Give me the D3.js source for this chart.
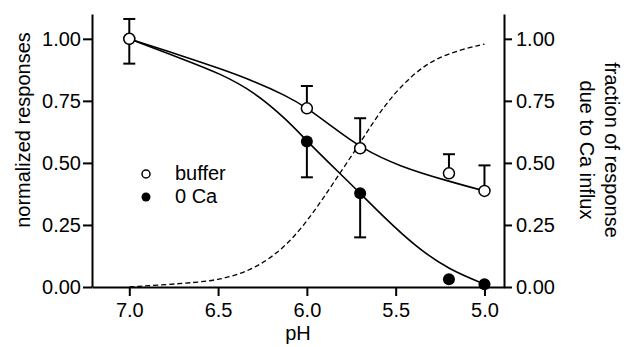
<!DOCTYPE html>
<html>
<head>
<meta charset="utf-8">
<script src="https://cdn.jsdelivr.net/npm/d3@7"></script>
<style>
  body { margin: 0; background: #fff; }
  svg { display: block; font-family: "Liberation Sans", Arial, sans-serif; }
</style>
</head>
<body>
<svg id="chart" width="632" height="347"></svg>
<script>
// measured points (pH)
const phPoints = [7.0, 6.0, 5.7, 5.2, 5.0];
const bufferValues = [1.0, 0.72, 0.559, 0.458, 0.387];
const bufferUpper = [1.08, 0.81, 0.68, 0.535, 0.49];
const caValues = [1.0, 0.586, 0.378, 0.031, 0.011];
const caLower = [0.90, 0.442, 0.20, null, null];

// fitted curves
const bufferFitPh = [7.0, 6.676, 6.489, 6.30, 6.114, 6.0, 5.85, 5.7, 5.478, 5.197, 5.0];
const bufferFitVal = [1.0, 0.925, 0.88, 0.83, 0.77, 0.722, 0.642, 0.562, 0.485, 0.425, 0.387];
const caFitPh = [7.0, 6.676, 6.489, 6.30, 6.114, 6.0, 5.815, 5.7, 5.571, 5.384, 5.197, 5.0];
const caFitVal = [1.0, 0.912, 0.86, 0.788, 0.675, 0.588, 0.458, 0.378, 0.285, 0.16, 0.069, 0.012];

// fraction of response due to Ca influx (right axis)
const fracPh = [7.0, 6.676, 6.489, 6.30, 6.114, 5.965, 5.852, 5.7, 5.571, 5.421, 5.253, 5.0];
const fracVal = [0.0, 0.015, 0.028, 0.069, 0.163, 0.297, 0.418, 0.58, 0.727, 0.848, 0.935, 0.979];

const xTicks = [7.0, 6.5, 6.0, 5.5, 5.0];
const yTicks = [0, 0.25, 0.5, 0.75, 1.0];

const svg = d3.select('#chart');

const x = d3.scaleLinear().domain([7.21, 4.89]).range([92, 504]);
const y = d3.scaleLinear().domain([0, 1.1]).range([287, 14]);
const y2 = d3.scaleLinear().domain([0, 1.1]).range([287, 14]);

// axes
const gx = svg.append('g')
  .attr('transform', 'translate(0,287)')
  .call(d3.axisBottom(x).tickValues(xTicks).tickFormat(d3.format('.1f'))
    .tickSize(9).tickSizeOuter(0).tickPadding(7));

const gy = svg.append('g')
  .attr('transform', 'translate(92,0)')
  .call(d3.axisLeft(y).tickValues(yTicks).tickFormat(d3.format('.2f'))
    .tickSize(9).tickSizeOuter(0).tickPadding(2));

const gy2 = svg.append('g')
  .attr('transform', 'translate(504,0)')
  .call(d3.axisRight(y2).tickValues(yTicks).tickFormat(d3.format('.2f'))
    .tickSize(8).tickSizeOuter(0).tickPadding(4));

[gx, gy, gy2].forEach(g => {
  g.selectAll('path, line').attr('stroke', '#000').attr('stroke-width', 2);
  g.selectAll('text').attr('font-size', 20).attr('fill', '#000')
    .attr('font-family', '"Liberation Sans", Arial, sans-serif');
});

// axis titles
svg.append('text')
  .attr('x', 298).attr('y', 340)
  .attr('text-anchor', 'middle').attr('font-size', 20)
  .text('pH');

svg.append('text')
  .attr('transform', 'translate(30,130) rotate(-90)')
  .attr('text-anchor', 'middle').attr('font-size', 20)
  .text('normalized responses');

const rt = svg.append('text')
  .attr('transform', 'translate(605,150) rotate(90)')
  .attr('text-anchor', 'middle').attr('font-size', 20);
rt.append('tspan').attr('x', 0).attr('y', 0).text('fraction of response');
rt.append('tspan').attr('x', 0).attr('y', 25).text('due to Ca influx');

// curves
const line = d3.line()
  .x(d => x(d[0]))
  .y(d => y(d[1]))
  .curve(d3.curveBasis);

svg.append('path')
  .attr('d', line(d3.zip(fracPh, fracVal)))
  .attr('fill', 'none').attr('stroke', '#000')
  .attr('stroke-width', 1.3).attr('stroke-dasharray', '5,3');

svg.append('path')
  .attr('d', line(d3.zip(bufferFitPh, bufferFitVal)))
  .attr('fill', 'none').attr('stroke', '#000').attr('stroke-width', 1.6);

svg.append('path')
  .attr('d', line(d3.zip(caFitPh, caFitVal)))
  .attr('fill', 'none').attr('stroke', '#000').attr('stroke-width', 1.6);

// error bars
function errorBars(vals, ends) {
  const data = phPoints.map((p, i) => ({ p, v: vals[i], e: ends[i] }))
    .filter(d => d.e != null);
  const g = svg.append('g').attr('stroke', '#000').attr('stroke-width', 2);
  g.selectAll('line.v').data(data).enter().append('line')
    .attr('x1', d => x(d.p)).attr('x2', d => x(d.p))
    .attr('y1', d => y(d.v)).attr('y2', d => y(d.e));
  g.selectAll('line.c').data(data).enter().append('line')
    .attr('x1', d => x(d.p) - 6).attr('x2', d => x(d.p) + 6)
    .attr('y1', d => y(d.e)).attr('y2', d => y(d.e));
}
errorBars(caValues, caLower);
errorBars(bufferValues, bufferUpper);

// points
svg.selectAll('circle.ca')
  .data(phPoints.map((p, i) => [p, caValues[i]]))
  .enter().append('circle')
  .attr('cx', d => x(d[0])).attr('cy', d => y(d[1]))
  .attr('r', 6).attr('fill', '#000');

svg.selectAll('circle.buf')
  .data(phPoints.map((p, i) => [p, bufferValues[i]]))
  .enter().append('circle')
  .attr('cx', d => x(d[0])).attr('cy', d => y(d[1]))
  .attr('r', 5.5).attr('fill', '#fff')
  .attr('stroke', '#000').attr('stroke-width', 1.5);

// legend
const legend = svg.append('g');
legend.append('circle').attr('cx', 146).attr('cy', 174).attr('r', 4)
  .attr('fill', '#fff').attr('stroke', '#000').attr('stroke-width', 1.5);
legend.append('text').attr('x', 175).attr('y', 180).attr('font-size', 20).text('buffer');
legend.append('circle').attr('cx', 146).attr('cy', 197).attr('r', 4.5)
  .attr('fill', '#000');
legend.append('text').attr('x', 175).attr('y', 203).attr('font-size', 20).text('0 Ca');
</script>
</body>
</html>
